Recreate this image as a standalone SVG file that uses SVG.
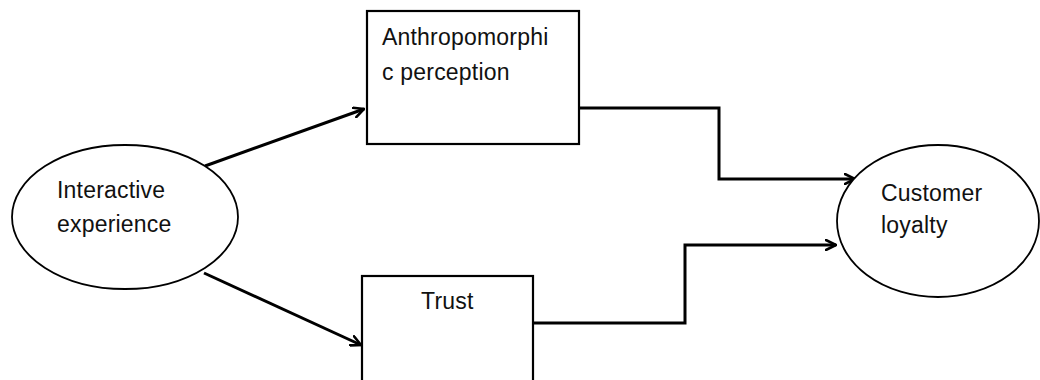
<svg xmlns="http://www.w3.org/2000/svg" width="1040" height="380" viewBox="0 0 1040 380">
  <style>
    .label { font-family: "Liberation Sans", Arial, sans-serif; font-size: 23px; fill: #111; letter-spacing: 0.2px; }
    .box { fill: #fff; stroke: #000; stroke-width: 2.2; }
    .oval { fill: #fff; stroke: #000; stroke-width: 1.8; }
    .edge { fill: none; stroke: #000; stroke-width: 3; stroke-linejoin: miter; }
  </style>
  <defs>
    <marker id="arrow" viewBox="0 0 12 12" refX="11" refY="6" markerWidth="12" markerHeight="12" markerUnits="userSpaceOnUse" orient="auto">
      <path d="M1,1 L11,6 L1,11" fill="none" stroke="#000" stroke-width="2.6" stroke-linecap="round" stroke-linejoin="miter"/>
    </marker>
  </defs>
  <rect width="1040" height="380" fill="#fff"/>

  <g id="connectors">
    <line class="edge" x1="205" y1="166" x2="364" y2="109" marker-end="url(#arrow)"/>
    <line class="edge" x1="204" y1="273" x2="361" y2="345" marker-end="url(#arrow)"/>
    <polyline class="edge" points="579,108 719,108 719,179 855,179" marker-end="url(#arrow)"/>
    <polyline class="edge" points="533,323 685,323 685,245 836,245" marker-end="url(#arrow)"/>
  </g>

  <g id="interactive-experience">
    <ellipse class="oval" cx="125" cy="217" rx="113" ry="72"/>
    <text class="label" x="57" y="198">Interactive</text>
    <text class="label" x="57" y="232">experience</text>
  </g>

  <g id="anthropomorphic-perception">
    <rect class="box" x="367" y="11" width="212" height="133"/>
    <text class="label" x="382" y="45">Anthropomorphi</text>
    <text class="label" x="382" y="80">c perception</text>
  </g>

  <g id="trust">
    <rect class="box" x="362" y="276" width="171" height="130"/>
    <text class="label" x="421" y="309">Trust</text>
  </g>

  <g id="customer-loyalty">
    <ellipse class="oval" cx="938" cy="221" rx="101" ry="76"/>
    <text class="label" x="881" y="201">Customer</text>
    <text class="label" x="881" y="233">loyalty</text>
  </g>
</svg>
